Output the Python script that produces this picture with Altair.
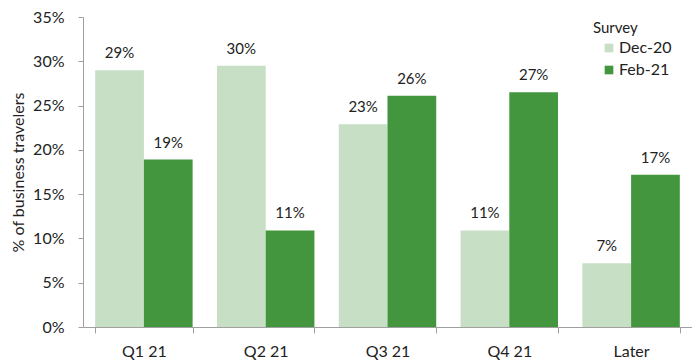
import altair as alt
import pandas as pd

categories = ["Q1 21", "Q2 21", "Q3 21", "Q4 21", "Later"]
series = ["Dec-20", "Feb-21"]
dec20 = [0.290, 0.295, 0.229, 0.109, 0.072]
feb21 = [0.189, 0.109, 0.261, 0.265, 0.172]
colors = ["#c6dfc5", "#43963d"]

rows = []
for c, d, f in zip(categories, dec20, feb21):
    rows.append({"period": c, "Survey": series[0], "value": d})
    rows.append({"period": c, "Survey": series[1], "value": f})
df = pd.DataFrame(rows)

FONT = "Lato"

x = alt.X("period:N", sort=categories, title=None,
          scale=alt.Scale(paddingInner=0.2, paddingOuter=0.1),
          axis=alt.Axis(labelAngle=0, tickBand="extent", tickSize=6,
                        labelFontSize=16, labelPadding=10, labelColor="#222",
                        domainColor="#a0a0a0", tickColor="#a0a0a0"))
xo = alt.XOffset("Survey:N", sort=series, scale=alt.Scale(paddingInner=0, paddingOuter=0))
y = alt.Y("value:Q", title="% of business travelers",
          scale=alt.Scale(domain=[0, 0.35], nice=False),
          axis=alt.Axis(format=".0%", values=[0, 0.05, 0.1, 0.15, 0.2, 0.25, 0.3, 0.35],
                        grid=False, tickSize=5, labelFontSize=16, labelColor="#222",
                        labelPadding=14,
                        titleFontSize=16, titleFontWeight="normal", titleColor="#222",
                        titlePadding=6, domainColor="#a0a0a0", tickColor="#a0a0a0"))
color = alt.Color("Survey:N", sort=series,
                  scale=alt.Scale(domain=series, range=colors),
                  legend=alt.Legend(orient="none", legendX=510, legendY=4, padding=0,
                                    title="Survey", titleFontSize=15,
                                    titleFontWeight="normal", titleColor="#222",
                                    labelFontSize=16, labelColor="#222",
                                    symbolType="square", symbolSize=75,
                                    symbolStrokeWidth=0, symbolOffset=8,
                                    rowPadding=6, titlePadding=4, labelOffset=2))

bars = alt.Chart(df).mark_bar().encode(x=x, xOffset=xo, y=y, color=color)
labels = alt.Chart(df).mark_text(baseline="bottom", dy=-9, fontSize=15, color="#222", font=FONT).encode(
    x=x, xOffset=xo, y=y, text=alt.Text("value:Q", format=".0%"))

chart = (bars + labels).properties(
    width=609, height=310,
    autosize=alt.AutoSizeParams(type="none"),
    padding={"left": 75, "top": 9, "right": 0, "bottom": 36},
).configure(font=FONT).configure_view(stroke=None)

chart.save("out.html", embed_options={"renderer": "svg", "actions": False})
